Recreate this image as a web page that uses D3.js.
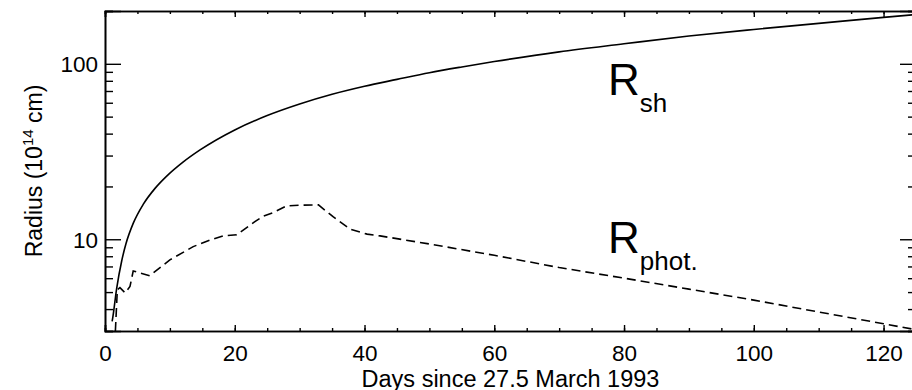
<!DOCTYPE html>
<html>
<head>
<meta charset="utf-8">
<script src="https://cdn.jsdelivr.net/npm/d3@7/dist/d3.min.js"></script>
<style>
  html, body { margin: 0; padding: 0; background: #fff; }
  svg { display: block; font-family: "Liberation Sans", Arial, Helvetica, sans-serif; }
</style>
</head>
<body>
<svg id="chart" width="912" height="390"></svg>
<script>
// Shock radius R_sh (solid) and photospheric radius R_phot (dashed), 10^14 cm
const shDays = [1.1, 1.19, 1.8, 2.58, 3.24, 4.36, 5.91, 7.71, 9.51, 12.07, 14.65, 20, 25, 30, 35, 40, 45, 50, 55, 60, 70, 80, 90, 100, 110, 120, 125];
const shRadius = [3.4, 3.56, 5.25, 7.54, 9.45, 12.35, 15.85, 19.5, 22.9, 27.6, 32.3, 42, 50.7, 59, 67, 74.5, 81.5, 89, 96, 103, 117, 130, 144, 157, 170, 184, 191];

const photDays = [1.6, 1.9, 2.3, 3.1, 3.85, 4.35, 6.9, 10, 13.6, 16.2, 18.2, 20.3, 23.1, 24.4, 25.95, 28, 30.1, 32.9, 35.2, 37.8, 40.4, 42.4, 50, 60, 70, 80, 90, 100, 110, 120, 125];
const photRadius = [3.0, 5.16, 5.3, 4.95, 5.38, 6.6, 6.2, 7.63, 9.08, 9.9, 10.45, 10.6, 12.6, 13.55, 14.2, 15.5, 15.65, 15.7, 13.4, 11.4, 10.7, 10.45, 9.4, 8.1, 6.9, 6.0, 5.2, 4.5, 3.85, 3.3, 3.05];

const xMajorTicks = [0, 20, 40, 60, 80, 100, 120];
const xMinorTicks = d3.range(0, 126, 5);
const yMajorTicks = [10, 100];
const yMinorTicks = [3, 4, 5, 6, 7, 8, 9, 20, 30, 40, 50, 60, 70, 80, 90, 200];

const svg = d3.select("#chart");
const pLeft = 105, pRight = 916, pTop = 11, pBottom = 331;
const fontFam = '"Liberation Sans", Arial, Helvetica, sans-serif';

const x = d3.scaleLinear().domain([0, 125]).range([pLeft, pRight]);
const y = d3.scaleLog().domain([3, 200]).range([pBottom, pTop]);

svg.append("defs").append("clipPath").attr("id", "plotclip")
  .append("rect").attr("x", pLeft).attr("y", pTop).attr("width", pRight - pLeft).attr("height", pBottom - pTop);

function styleAxis(g) {
  g.select(".domain").attr("stroke", "#000").attr("stroke-width", 1.6);
  g.selectAll(".tick line").attr("stroke", "#000").attr("stroke-width", 1.4);
  g.selectAll(".tick text").attr("fill", "#000").style("font-size", "22.5px").style("font-family", fontFam);
}

// bottom axis
svg.append("g").attr("transform", `translate(0,${pBottom})`)
  .call(d3.axisBottom(x).tickValues(xMinorTicks).tickSize(-3).tickFormat(""))
  .call(styleAxis);
svg.append("g").attr("transform", `translate(0,${pBottom})`)
  .call(d3.axisBottom(x).tickValues(xMajorTicks).tickSize(-6).tickFormat(d3.format("d")))
  .call(styleAxis)
  .call(g => g.selectAll(".tick text").attr("y", 14).attr("dy", "0.71em"));

// top axis
svg.append("g").attr("transform", `translate(0,${pTop})`)
  .call(d3.axisTop(x).tickValues(xMinorTicks).tickSize(-3).tickFormat(""))
  .call(styleAxis);
svg.append("g").attr("transform", `translate(0,${pTop})`)
  .call(d3.axisTop(x).tickValues(xMajorTicks).tickSize(-6).tickFormat(""))
  .call(styleAxis);

// left axis
svg.append("g").attr("transform", `translate(${pLeft},0)`)
  .call(d3.axisLeft(y).tickValues(yMinorTicks).tickSize(-8).tickFormat(""))
  .call(styleAxis);
svg.append("g").attr("transform", `translate(${pLeft},0)`)
  .call(d3.axisLeft(y).tickValues(yMajorTicks).tickSize(-16).tickFormat(d3.format("d")))
  .call(styleAxis)
  .call(g => g.selectAll(".tick text").attr("x", -7).attr("dy", "0.36em"));

// right axis
svg.append("g").attr("transform", `translate(${pRight},0)`)
  .call(d3.axisRight(y).tickValues(yMinorTicks).tickSize(-8).tickFormat(""))
  .call(styleAxis);
svg.append("g").attr("transform", `translate(${pRight},0)`)
  .call(d3.axisRight(y).tickValues(yMajorTicks).tickSize(-16).tickFormat(""))
  .call(styleAxis);

// curves
const line = d3.line().x(d => x(d[0])).y(d => y(d[1])).curve(d3.curveMonotoneX);
const plot = svg.append("g").attr("clip-path", "url(#plotclip)");

plot.append("path")
  .datum(d3.zip(shDays, shRadius))
  .attr("d", line)
  .attr("fill", "none").attr("stroke", "#000").attr("stroke-width", 1.6);

const linePhot = d3.line().x(d => x(d[0])).y(d => y(d[1])).curve(d3.curveLinear);
plot.append("path")
  .datum(d3.zip(photDays, photRadius))
  .attr("d", linePhot)
  .attr("fill", "none").attr("stroke", "#000").attr("stroke-width", 1.6)
  .attr("stroke-dasharray", "9,5");

// curve labels
function curveLabel(px, py, sub) {
  const t = svg.append("text").attr("x", px).attr("y", py)
    .attr("fill", "#000").style("font-family", fontFam);
  t.append("tspan").style("font-size", "44px").text("R");
  t.append("tspan").style("font-size", "26px").attr("dy", 16.7).text(sub);
}
curveLabel(608, 95, "sh");
curveLabel(608, 253.3, "phot.");

// axis titles
svg.append("text")
  .attr("x", (pLeft + pRight) / 2).attr("y", 387)
  .attr("text-anchor", "middle")
  .style("font-size", "23.5px").style("font-family", fontFam)
  .text("Days since 27.5 March 1993");

const yt = svg.append("text")
  .attr("transform", `translate(41.5,${(pTop + pBottom) / 2}) rotate(-90)`)
  .attr("text-anchor", "middle")
  .style("font-size", "23px").style("font-family", fontFam);
yt.append("tspan").text("Radius (10");
yt.append("tspan").style("font-size", "15px").attr("dy", -9).text("14");
yt.append("tspan").attr("dy", 9).text(" cm)");
</script>
</body>
</html>
